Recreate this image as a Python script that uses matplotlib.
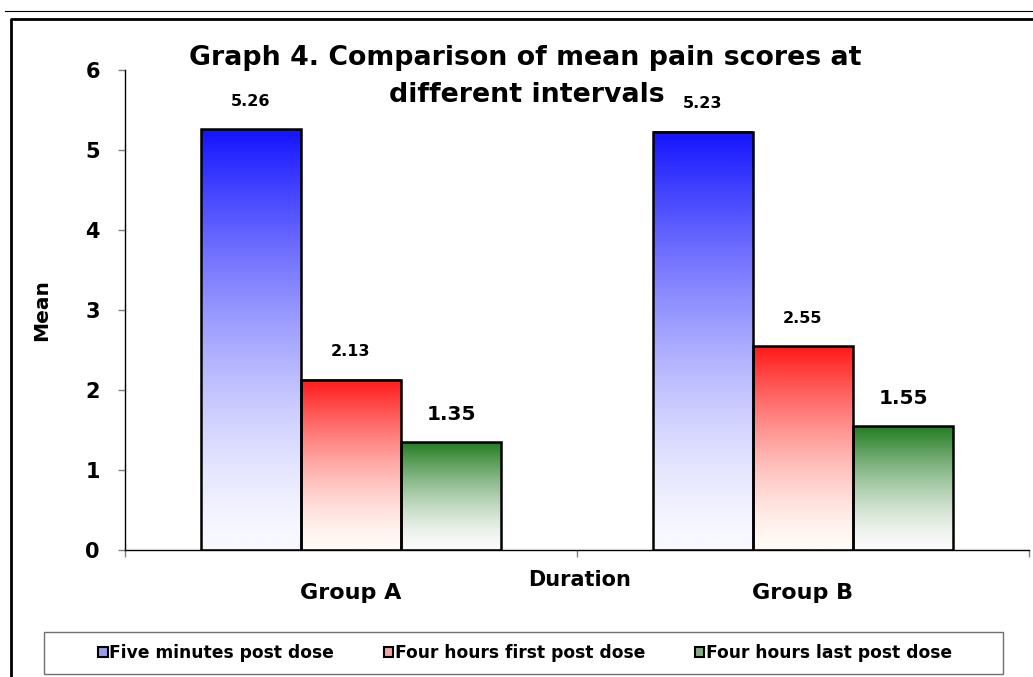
import numpy as np
import matplotlib
matplotlib.use('Agg')
import matplotlib.pyplot as plt
from matplotlib.colors import LinearSegmentedColormap
from matplotlib.patches import Patch, Rectangle
from matplotlib.lines import Line2D

# 数据
groups = ['Group A', 'Group B']
series_names = ['Five minutes post dose', 'Four hours first post dose', 'Four hours last post dose']
five_min = [5.26, 5.23]
first_dose = [2.13, 2.55]
last_dose = [1.35, 1.55]

values = [five_min, first_dose, last_dose]

# 渐变颜色 (底部 -> 顶部)
top_colors = [(20/255, 20/255, 1.0), (1.0, 25/255, 25/255), (34/255, 125/255, 34/255)]
bottom_colors = [(248/255, 248/255, 1.0), (1.0, 250/255, 245/255), (250/255, 250/255, 250/255)]
legend_colors = ['#9a9aee', '#f4a4a4', '#86ae86']
label_sizes = [11.5, 11.5, 14.5]

W, H = 1033, 677
fig = plt.figure(figsize=(W / 100, H / 100), dpi=100)
ax = fig.add_axes([125 / W, 1 - 550 / H, (1029 - 125) / W, (550 - 70) / H])

bar_w = 0.2212
grad = (np.linspace(0, 1, 256) ** 1.5).reshape(-1, 1)

for i, vals in enumerate(values):
    cmap = LinearSegmentedColormap.from_list(f'grad{i}', [bottom_colors[i], top_colors[i]])
    for j, v in enumerate(vals):
        xc = j + (i - 1) * bar_w
        ax.imshow(grad, extent=(xc - bar_w / 2, xc + bar_w / 2, 0, v), origin='lower',
                  aspect='auto', cmap=cmap, vmin=0, vmax=1, zorder=2)
        ax.bar(xc, v, bar_w, fill=False, edgecolor='black', linewidth=1.8, zorder=3)
        ax.annotate(f'{v:.2f}', (xc, v), xytext=(0, 20), textcoords='offset points',
                    ha='center', va='center', fontsize=label_sizes[i], fontweight='bold')

ax.set_xlim(-0.5, 1.5)
ax.set_ylim(0, 6)

# 坐标轴样式
for s in ['top', 'right']:
    ax.spines[s].set_visible(False)
ax.spines['left'].set_linewidth(1.0)
ax.spines['bottom'].set_linewidth(1.0)

ax.set_yticks(range(7))
ax.tick_params(axis='y', direction='out', length=5, width=1, color='#808080',
               pad=13, labelsize=15)
for lab in ax.get_yticklabels():
    lab.set_fontweight('bold')

ax.set_xticks([0, 1])
ax.set_xticklabels(groups, fontsize=16, fontweight='bold')
ax.set_xticks([-0.5, 0.5, 1.5], minor=True)
ax.tick_params(axis='x', which='major', length=0, pad=24)
ax.tick_params(axis='x', which='minor', direction='out', length=5, width=1, color='#808080')

# 标题 (两行) 和轴标签
fig.text(525 / W, 1 - 58 / H, 'Graph 4. Comparison of mean pain scores at',
         ha='center', va='center', fontsize=19.3, fontweight='bold')
fig.text(527 / W, 1 - 95 / H, 'different intervals',
         ha='center', va='center', fontsize=19.3, fontweight='bold')
fig.text(42 / W, 1 - 310 / H, 'Mean', rotation=90, ha='center', va='center',
         fontsize=14.5, fontweight='bold')
fig.text(580 / W, 1 - 580 / H, 'Duration', ha='center', va='center',
         fontsize=15, fontweight='bold')

# 图例
handles = [Patch(facecolor=c, edgecolor='black', linewidth=1.5) for c in legend_colors]
fig.legend(handles, series_names, loc='center', bbox_to_anchor=(525 / W, 1 - 653 / H),
           ncol=3, frameon=False, prop={'size': 12.3, 'weight': 'bold'},
           handlelength=0.55, handleheight=0.55, handletextpad=0.1, columnspacing=2.9)
fig.add_artist(Rectangle((44 / W, 1 - 674 / H), (1003 - 44) / W, 42 / H,
                         transform=fig.transFigure, fill=False, edgecolor='#707070', linewidth=1.0))

# 外框
fig.add_artist(Line2D([5 / W, 1], [1 - 11 / H, 1 - 11 / H], transform=fig.transFigure,
                      color='black', linewidth=0.8))
fig.add_artist(Line2D([11 / W, 11 / W, 1], [0, 1 - 19 / H, 1 - 19 / H], transform=fig.transFigure,
                      color='black', linewidth=2.0))

fig.savefig('out.png', dpi=100)
